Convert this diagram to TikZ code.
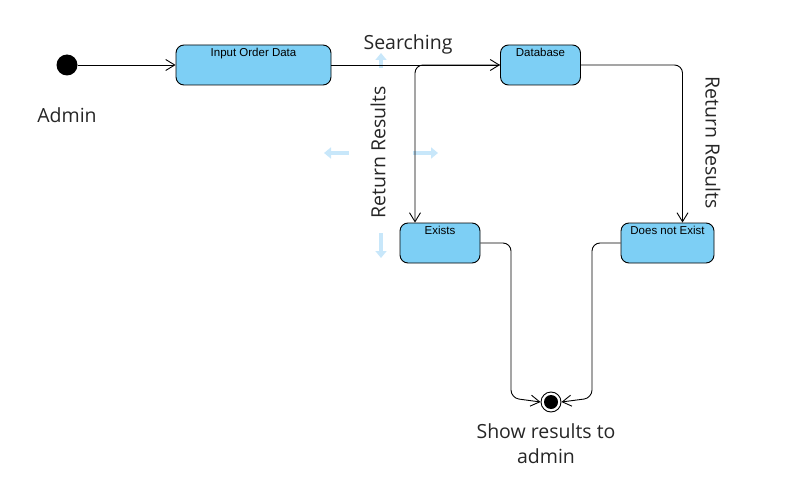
\documentclass[tikz,border=0pt]{standalone}
\usepackage{fontspec}
\setmainfont{Open Sans}
\newfontfamily\boxfont{Liberation Sans}
\usetikzlibrary{arrows.meta}
\definecolor{boxblue}{RGB}{125,207,245}
\definecolor{hintblue}{RGB}{200,231,250}
\begin{document}
\begin{tikzpicture}[x=1pt,y=-1pt,
  statebox/.style={draw=black, line width=0.9pt, rounded corners=8pt, fill=boxblue,
    minimum height=40pt, inner sep=3pt, text height=8.5pt, text depth=25.5pt,
    font=\boxfont\fontsize{11.5}{13}\selectfont},
  conn/.style={draw=black, line width=0.9pt, -{Straight Barb[length=9pt,width=11pt,line width=0.9pt]}},
  lbl/.style={font=\fontsize{19.5}{24}\selectfont, text=black!85, inner sep=0pt},
  hint/.style={draw=hintblue, line width=4.5pt, -{Triangle[length=7pt,width=11pt]}}]
\useasboundingbox (0,0) rectangle (800,492);
% nodes
\node[circle, fill=black, minimum size=21pt, inner sep=0pt] (start) at (67,65) {};
\node[statebox, minimum width=155pt] (input) at (253.5,65) {Input Order Data};
\node[statebox, minimum width=80pt] (db) at (540.5,65) {Database};
\node[statebox, minimum width=80pt] (exists) at (440,243) {Exists};
\node[statebox, minimum width=93pt] (dne) at (667.5,243) {Does not Exist};
\node[circle, draw=black, line width=0.9pt, fill=white, minimum size=20pt, inner sep=0pt] (end) at (551,402) {};
\node[circle, fill=black, minimum size=14pt, inner sep=0pt] (endin) at (end) {};
% labels
\node[lbl] (admin) at (67,115) {Admin};
\node[lbl] (search) at (408,44) {Searching};
\node[lbl, rotate=90] (rrleft) at (378,152.5) {Return Results};
\node[lbl, rotate=-90] (rrright) at (713,142.5) {Return Results};
\node[lbl, align=center] (show) at (546,444) {Show results to\\[1pt]admin};
% hint arrows
\draw[hint] (381,68) -- (381,53);
\draw[hint] (381,233) -- (381,258);
\draw[hint] (349,153) -- (324,153);
\draw[hint] (413,153) -- (438,153);
% connectors
\coordinate (ej) at (511,398);
\coordinate (dj) at (592,398);
\draw[conn] (start) -- (input);
\draw[conn] (input) -- (db);
\draw[conn, rounded corners=8pt] (db.west) -| ([xshift=-25pt]exists.north);
\draw[conn, rounded corners=8pt] (db.east) -| ([xshift=15pt]dne.north);
\draw[conn, rounded corners=8pt] (exists.east) -| (ej) -- (end.west);
\draw[conn, rounded corners=8pt] (dne.west) -| (dj) -- (end.east);
\end{tikzpicture}
\end{document}
